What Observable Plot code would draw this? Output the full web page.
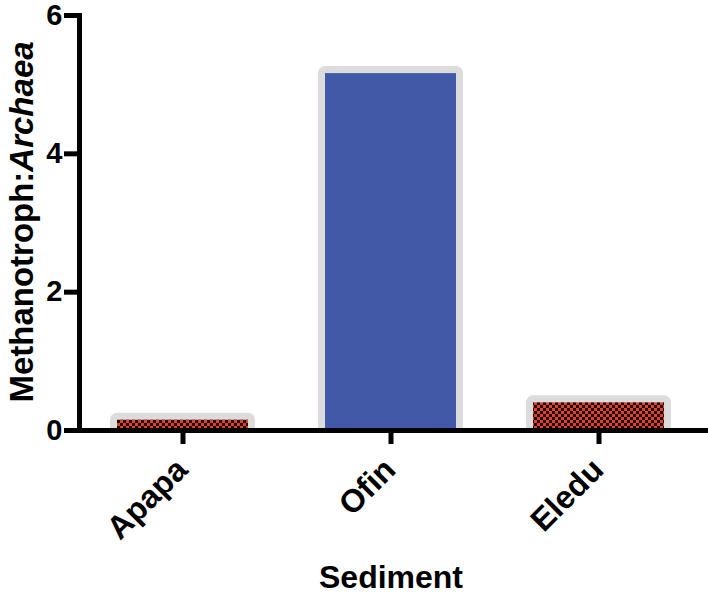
<!DOCTYPE html>
<html>
<head>
<meta charset="utf-8">
<script src="https://cdn.jsdelivr.net/npm/d3@7"></script>
<script src="https://cdn.jsdelivr.net/npm/@observablehq/plot@0.6"></script>
<style>
  html, body { margin: 0; padding: 0; background: #fff; }
  #chart { width: 708px; height: 595px; }
</style>
</head>
<body>
<div id="chart"></div>
<script>
const sediments = ["Apapa", "Ofin", "Eledu"];
const ratios = [0.15, 5.16, 0.40];
const yTicks = [0, 2, 4, 6];
const yTitleMain = "Methanotroph:";
const yTitleItalic = "Archaea";
const xTitle = "Sediment";

const data = sediments.map((s, i) => ({sediment: s, ratio: ratios[i]}));
const patterned = data.filter(d => d.sediment !== "Ofin");
const solid = data.filter(d => d.sediment === "Ofin");

const barOpts = {
  x: "sediment", y: "ratio",
  stroke: "#dcdcdc", strokeWidth: 14, strokeLinejoin: "round",
  paintOrder: "stroke", clip: true
};

const svg = Plot.plot({
  width: 708,
  height: 595,
  marginLeft: 79,
  marginRight: 0,
  marginTop: 15,
  marginBottom: 165,
  style: {fontFamily: "'Liberation Sans', Arial, sans-serif", fontWeight: "bold", color: "#000", background: "#fff"},
  x: {domain: sediments, range: [79, 703], paddingInner: 0.37, paddingOuter: 0.185},
  y: {domain: [0, 6]},
  marks: [
    Plot.barY(patterned, {...barOpts, fill: "url(#checker)"}),
    Plot.barY(solid, {...barOpts, fill: "#4159a7"}),
    Plot.axisY({ticks: yTicks, tickFormat: "d", tickSize: 15, tickPadding: 2, strokeWidth: 5, fontSize: 29, label: null}),
    Plot.axisX({tickSize: 14, tickFormat: () => "", strokeWidth: 5, label: null}),
    Plot.ruleY([0], {strokeWidth: 5}),
    Plot.frame({anchor: "left", strokeWidth: 5}),
    Plot.text(sediments, {x: d => d, y: () => 0, dx: -1, dy: 34, rotate: -45, textAnchor: "end", lineAnchor: "middle", fontSize: 32, fontWeight: "bold"})
  ]
});

const sel = d3.select(svg);
const defs = sel.insert("defs", ":first-child");
const pat = defs.append("pattern").attr("id", "checker").attr("patternUnits", "userSpaceOnUse")
  .attr("width", 6).attr("height", 6);
pat.append("rect").attr("width", 6).attr("height", 6).attr("fill", "#1a0a08");
pat.append("rect").attr("x", 0).attr("y", 0).attr("width", 3).attr("height", 3).attr("fill", "#e0402c");
pat.append("rect").attr("x", 3).attr("y", 3).attr("width", 3).attr("height", 3).attr("fill", "#e0402c");

const yt = sel.append("text")
  .attr("transform", "translate(33,222) rotate(-90)")
  .attr("text-anchor", "middle")
  .attr("font-size", 33)
  .attr("font-weight", "bold")
  .attr("fill", "#000");
yt.append("tspan").text(yTitleMain);
yt.append("tspan").attr("font-style", "italic").text(yTitleItalic);

sel.append("text")
  .attr("x", 391).attr("y", 588)
  .attr("text-anchor", "middle")
  .attr("font-size", 32)
  .attr("font-weight", "bold")
  .attr("fill", "#000")
  .text(xTitle);

document.getElementById("chart").appendChild(svg);
</script>
</body>
</html>
